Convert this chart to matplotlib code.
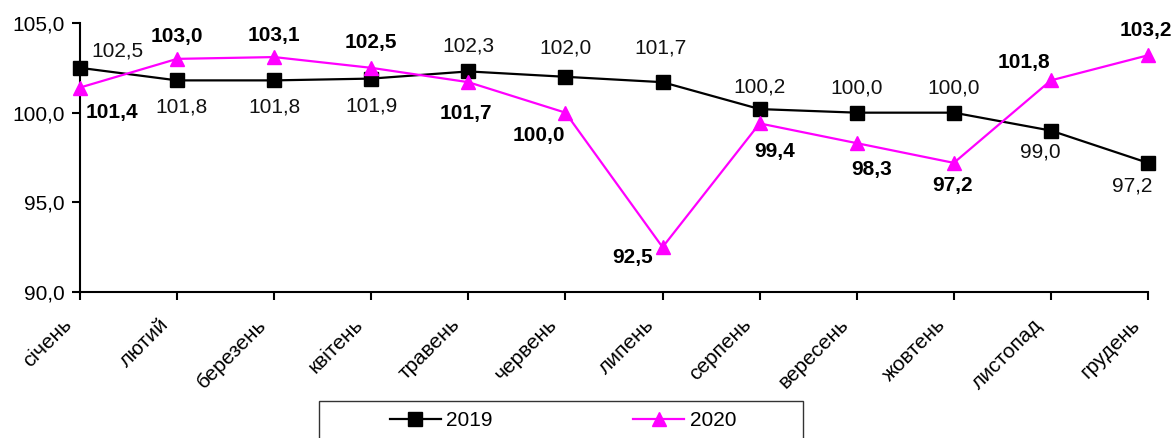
import numpy as np
import matplotlib
matplotlib.use('Agg')
import matplotlib.pyplot as plt
from matplotlib.patches import Rectangle

plt.rcParams['font.family'] = ['Liberation Sans', 'DejaVu Sans']

##  data
months = ['січень', 'лютий', 'березень', 'квітень', 'травень', 'червень',
          'липень', 'серпень', 'вересень', 'жовтень', 'листопад', 'грудень']
vals_2019 = [102.5, 101.8, 101.8, 101.9, 102.3, 102.0, 101.7, 100.2, 100.0, 100.0, 99.0, 97.2]
vals_2020 = [101.4, 103.0, 103.1, 102.5, 101.7, 100.0, 92.5, 99.4, 98.3, 97.2, 101.8, 103.2]

##  label offsets (pixels)
off_2019 = [(37, 17), (4, -27), (0, -27), (0, -27), (0, 25), (0, 29),
            (-2, 34), (0, 22), (0, 25), (0, 25), (-11, -21), (-16, -23)]
off_2020 = [(32, -25), (0, 22), (0, 22), (0, 25), (-2, -31), (-27, -23),
            (-30, -10), (15, -28), (15, -26), (-1, -23), (-27, 18), (-2, 25)]

fs = 15
x = np.arange(len(months))

fig = plt.figure(figsize=(11.72, 4.38), dpi=100)
ax = fig.add_axes([80/1172, 1-292/438, (1148-80)/1172, (292-23)/438])

l1, = ax.plot(x, vals_2019, '-', color='black', marker='s', markersize=10,
              linewidth=1.6, label='2019', clip_on=False, zorder=3)
l2, = ax.plot(x, vals_2020, '-', color='#ff00ff', marker='^', markersize=10,
              linewidth=1.6, label='2020', clip_on=False, zorder=4)

def fmt(v):
    return ('%.1f' % v).replace('.', ',')

for i in range(len(months)):
    ax.annotate(fmt(vals_2019[i]), (x[i], vals_2019[i]), xytext=off_2019[i],
                textcoords='offset pixels', ha='center', va='center',
                fontsize=fs, color='#111111')
    ax.annotate(fmt(vals_2020[i]), (x[i], vals_2020[i]), xytext=off_2020[i],
                textcoords='offset pixels', ha='center', va='center',
                fontsize=fs, fontweight='bold', color='black')

ax.set_xlim(0, 11)
ax.set_ylim(90, 105)
ax.set_yticks([90, 95, 100, 105])
ax.set_yticklabels([fmt(v) for v in [90, 95, 100, 105]], fontsize=fs)
ax.set_xticks(x)
ax.set_xticklabels([])
# month names drawn as rotated text, anchored at their upper right end
for i, m in enumerate(months):
    ax.annotate(m, (x[i], 0), xycoords=('data', 'axes fraction'),
                xytext=(-18, -23), textcoords='offset pixels',
                rotation=45, ha='right', va='top', rotation_mode='anchor',
                fontsize=fs, annotation_clip=False)
ax.tick_params(axis='both', direction='out', length=6, width=1.5, color='black')
ax.tick_params(axis='y', pad=5)
for s in ['top', 'right']:
    ax.spines[s].set_visible(False)
for s in ['left', 'bottom']:
    ax.spines[s].set_linewidth(1.5)

# legend frame runs past the bottom edge
fig.patches.append(Rectangle((319/1172, -0.05), 484/1172, 1-401/438+0.05,
                             transform=fig.transFigure, fill=False,
                             edgecolor='#333333', linewidth=1.0))
fig.legend(handles=[l1, l2], loc='center', ncol=2,
           bbox_to_anchor=(563/1172, 1-421/438), frameon=False,
           fontsize=fs, handlelength=2.45, handletextpad=0.25,
           columnspacing=6.75, borderaxespad=0)

plt.savefig('out.png', dpi=100)
